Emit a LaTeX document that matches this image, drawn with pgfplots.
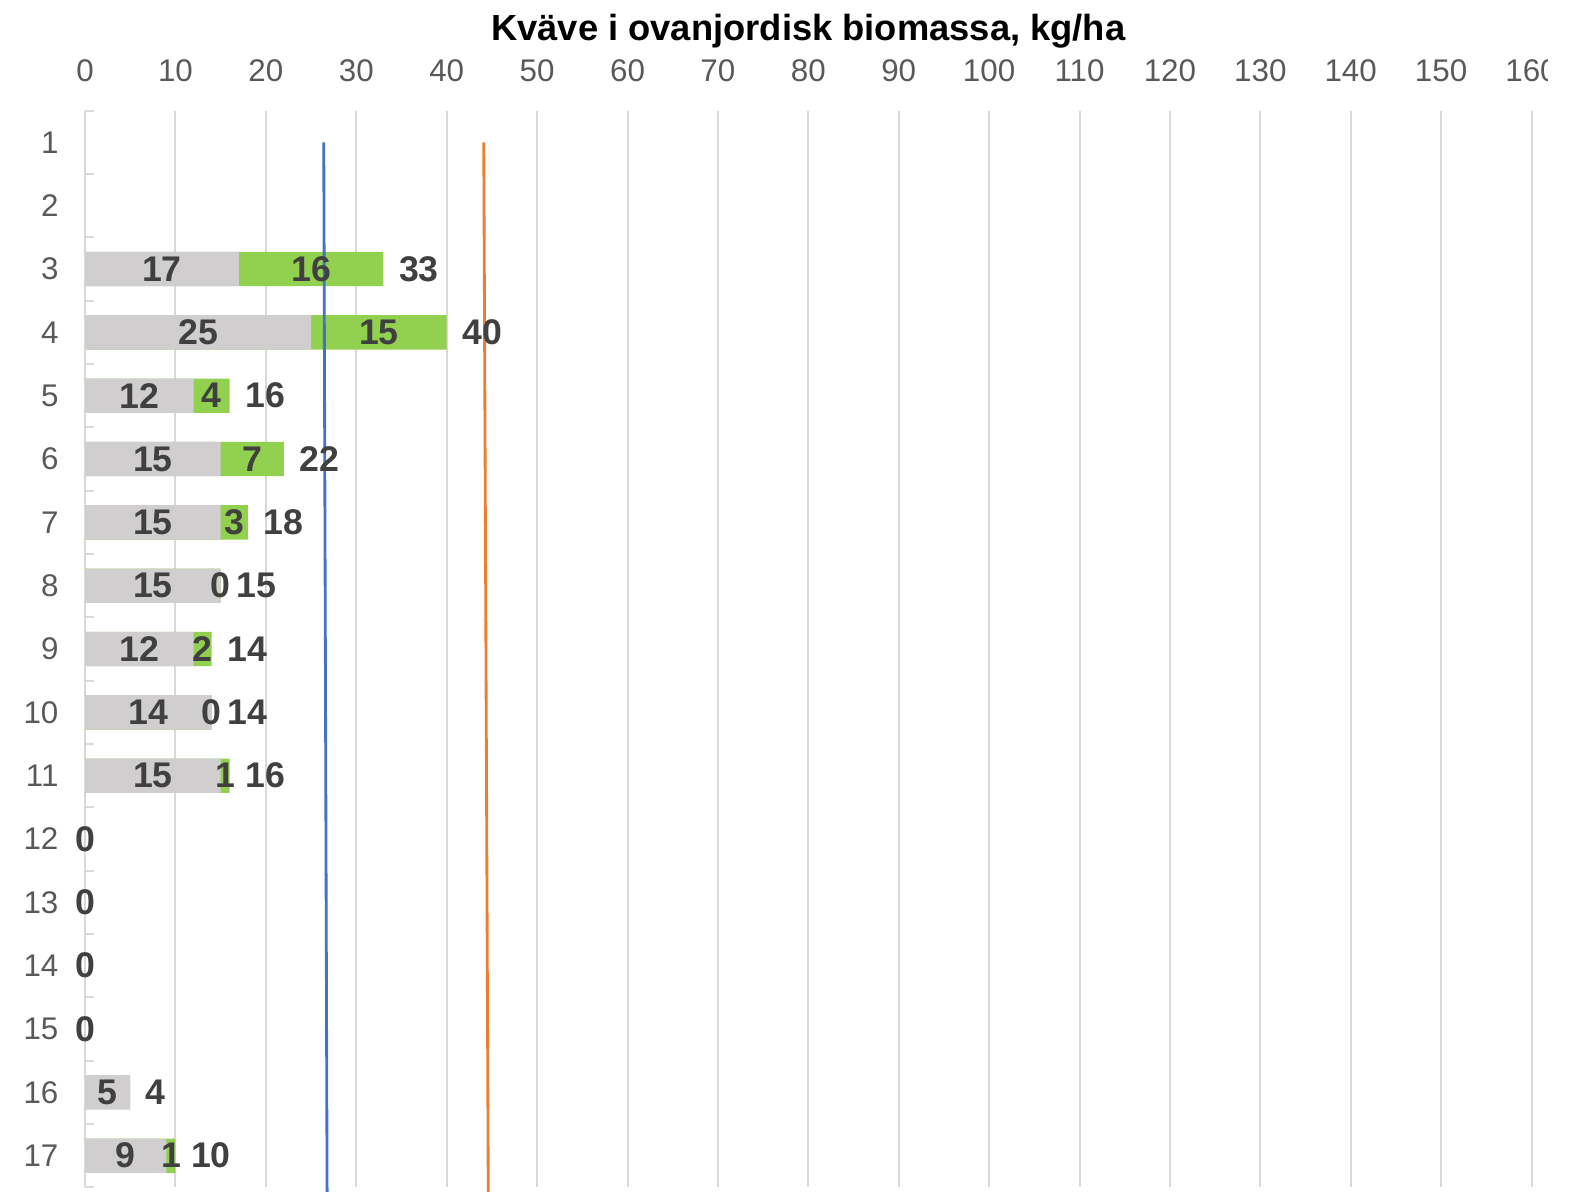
\documentclass[border=0pt]{standalone}
\usepackage{pgfplots}
\pgfplotsset{compat=1.18}
\usepackage{fontspec}
\setmainfont{Liberation Sans}
\definecolor{gridgray}{HTML}{D9D9D9}
\definecolor{barGray}{HTML}{D0CECE}
\definecolor{barGreen}{HTML}{92D050}
\definecolor{lblGray}{HTML}{404040}
\definecolor{tickGray}{HTML}{595959}
\definecolor{lineBlue}{HTML}{4472C4}
\definecolor{lineOrange}{HTML}{ED7D31}
\begin{document}
\begin{tikzpicture}
\path[use as bounding box] (-25.53pt,-1.11pt) rectangle (450.27pt,356.19pt);
\begin{axis}[
  at={(0,0)}, anchor=south west,
  scale only axis, width=433.92pt, height=322.98pt,
  xmin=0, xmax=160, ymin=0.5, ymax=17.5, y dir=reverse,
  clip=false,
  axis x line*=top, axis y line*=left,
  x axis line style={draw=none},
  y axis line style={draw=gridgray, line width=0.6pt},
  xtick={0,10,...,160},
  xmajorgrids,
  major grid style={gridgray, line width=0.6pt},
  ytick={1,...,17},
  minor ytick={0.5,1.5,...,17.5},
  major tick length=0pt, minor tick length=2.7pt, tick align=inside,
  minor tick style={gridgray, line width=0.6pt},
  /pgf/number format/assume math mode=true,
  tick label style={font=\fontsize{9.4}{11}\selectfont, text=tickGray},
  xticklabel style={anchor=base, yshift=8.7pt},
  yticklabel style={anchor=east, inner sep=0pt, xshift=-7.8pt},
  every axis title/.style={at={(0.5,1)}, anchor=base, yshift=21.2pt,
     font=\bfseries\fontsize{10.9}{12}\selectfont, text=black},
  title={Kväve i ovanjordisk biomassa, kg/ha},
]
% totals (green segment visible beyond grey)
\addplot[xbar, bar width=0.542, bar shift=0pt, fill=barGreen, draw=none] coordinates {
 (33,3) (40,4) (16,5) (22,6) (18,7) (15,8) (14,9) (14,10) (16,11) (10,17)};
% grey segment
\addplot[xbar, bar width=0.542, bar shift=0pt, fill=barGray, draw=none] coordinates {
 (17,3) (25,4) (12,5) (15,6) (15,7) (15,8) (12,9) (14,10) (15,11) (5,16) (9,17)};
% segment labels
\addplot[draw=none, mark=none, nodes near coords, point meta=explicit symbolic,
  nodes near coords align={center},
  every node near coord/.append style={font=\bfseries\fontsize{10.7}{12}\selectfont, text=lblGray, inner sep=0pt}]
  table[meta=lab] {
x y lab
8.5 3 17
25 3 16
12.5 4 25
32.5 4 15
6 5 12
14 5 4
7.5 6 15
18.5 6 7
7.5 7 15
16.5 7 3
7.5 8 15
15 8 0
6 9 12
13 9 2
7 10 14
14 10 0
7.5 11 15
15.5 11 1
0 12 0
0 13 0
0 14 0
0 15 0
2.5 16 5
4.5 17 9
9.5 17 1
};
% total labels
\addplot[draw=none, mark=none, nodes near coords, point meta=explicit symbolic,
  nodes near coords align={west},
  every node near coord/.append style={font=\bfseries\fontsize{10.7}{12}\selectfont, text=lblGray, inner sep=0pt, xshift=4.5pt}]
  table[meta=lab] {
x y lab
33 3 33
40 4 40
16 5 16
22 6 22
18 7 18
15 8 15
14 9 14
14 10 14
16 11 16
5 16 4
10 17 10
};
\addplot[lineBlue, line width=0.85pt, mark=none] coordinates {(26.4,1) (26.77,17.6)};
\addplot[lineOrange, line width=0.85pt, mark=none] coordinates {(44.1,1) (44.6,17.6)};
\end{axis}
\fill[white] (438.9pt,323.5pt) rectangle (452pt,357pt);
\end{tikzpicture}
\end{document}
